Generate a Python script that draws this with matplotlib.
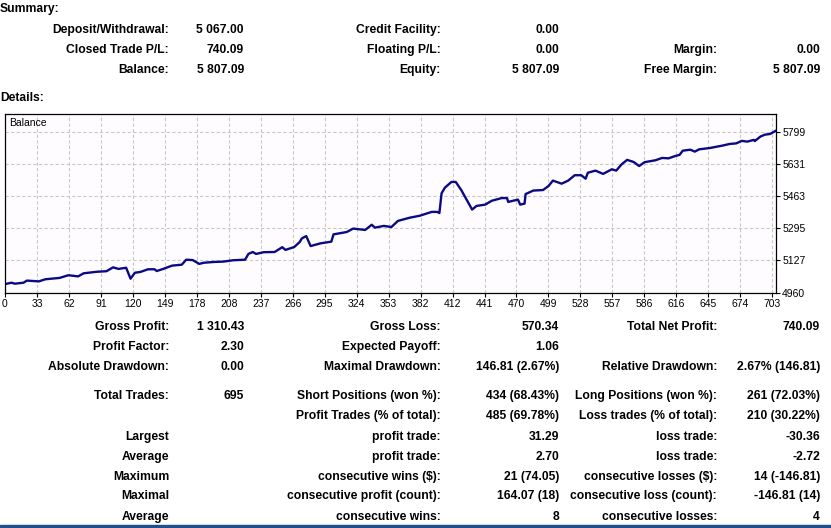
import numpy as np
import matplotlib.pyplot as plt

plt.rcParams['font.family'] = ['Liberation Sans', 'DejaVu Sans']

# balance curve (trade number, balance)
trade_no = [0, 6, 9, 17, 20, 31, 37, 50, 58, 67, 72, 84, 93, 99, 104, 111, 115, 119, 124,
            131, 137, 139, 145, 153, 162, 166, 172, 178, 182, 191, 200, 209, 220, 223, 227,
            230, 237, 247, 254, 257, 265, 270, 272, 276, 280, 289, 299, 301, 313, 319, 330,
            336, 339, 347, 354, 360, 371, 380, 391, 396, 398, 400, 403, 409, 413, 418, 428,
            432, 440, 446, 455, 460, 461, 470, 472, 476, 477, 484, 493, 498, 502, 510, 516,
            522, 528, 532, 534, 541, 548, 556, 560, 565, 570, 576, 581, 586, 596, 602, 608,
            614, 618, 621, 628, 632, 636, 646, 657, 664, 670, 675, 680, 686, 687, 692, 696,
            701, 706]
balance = [5005, 5012, 5007, 5012, 5023, 5019, 5030, 5037, 5051, 5045, 5061, 5069, 5072,
           5092, 5084, 5090, 5033, 5064, 5068, 5082, 5082, 5073, 5084, 5101, 5106, 5132,
           5130, 5110, 5116, 5120, 5122, 5129, 5132, 5162, 5172, 5162, 5171, 5172, 5197,
           5183, 5198, 5224, 5243, 5255, 5203, 5217, 5226, 5264, 5276, 5294, 5287, 5314,
           5299, 5308, 5302, 5334, 5351, 5361, 5381, 5381, 5375, 5478, 5507, 5537, 5537,
           5495, 5393, 5412, 5419, 5439, 5453, 5453, 5433, 5445, 5419, 5424, 5474, 5492,
           5495, 5516, 5544, 5528, 5544, 5572, 5572, 5554, 5585, 5596, 5579, 5603, 5596,
           5629, 5652, 5641, 5620, 5640, 5650, 5662, 5660, 5672, 5678, 5700, 5705, 5695,
           5707, 5714, 5726, 5735, 5738, 5751, 5747, 5756, 5750, 5773, 5783, 5787, 5803]

x_labels = ['0', '33', '62', '91', '120', '149', '178', '208', '237', '266', '295', '324',
            '353', '382', '412', '441', '470', '499', '528', '557', '586', '616', '645',
            '674', '703']
y_labels = ['4960', '5127', '5295', '5463', '5631', '5799']

summary_rows = [
    ['Deposit/Withdrawal:', '5 067.00', 'Credit Facility:', '0.00', '', ''],
    ['Closed Trade P/L:', '740.09', 'Floating P/L:', '0.00', 'Margin:', '0.00'],
    ['Balance:', '5 807.09', 'Equity:', '5 807.09', 'Free Margin:', '5 807.09'],
]
detail_rows = [
    ['Gross Profit:', '1 310.43', 'Gross Loss:', '570.34', 'Total Net Profit:', '740.09'],
    ['Profit Factor:', '2.30', 'Expected Payoff:', '1.06', '', ''],
    ['Absolute Drawdown:', '0.00', 'Maximal Drawdown:', '146.81 (2.67%)', 'Relative Drawdown:', '2.67% (146.81)'],
    ['Total Trades:', '695', 'Short Positions (won %):', '434 (68.43%)', 'Long Positions (won %):', '261 (72.03%)'],
    ['', '', 'Profit Trades (% of total):', '485 (69.78%)', 'Loss trades (% of total):', '210 (30.22%)'],
    ['Largest', '', 'profit trade:', '31.29', 'loss trade:', '-30.36'],
    ['Average', '', 'profit trade:', '2.70', 'loss trade:', '-2.72'],
    ['Maximum', '', 'consecutive wins ($):', '21 (74.05)', 'consecutive losses ($):', '14 (-146.81)'],
    ['Maximal', '', 'consecutive profit (count):', '164.07 (18)', 'consecutive loss (count):', '-146.81 (14)'],
    ['Average', '', 'consecutive wins:', '8', 'consecutive losses:', '4'],
]

W, H = 831, 528
fig = plt.figure(figsize=(W / 100, H / 100), dpi=100)
fig.patch.set_facecolor('white')


def put(x, y, s, ha='right', bold=True, size=8.7):
    # y is the visual middle of the capitals; place the baseline under it
    fig.text(x / W, 1 - (y + 4.2) / H, s, ha=ha, va='baseline', fontsize=size,
             fontweight='bold' if bold else 'normal', color='black')


col_x = [169, 244, 441, 559, 717, 820]

put(0, 8, 'Summary:', ha='left')
for row, y in zip(summary_rows, [28.5, 48.5, 68.5]):
    for s, x in zip(row, col_x):
        if s:
            put(x, y, s)
put(0, 97, 'Details:', ha='left')

for row, y in zip(detail_rows, [325.5, 345.5, 365.5, 395, 415, 435.5, 455.5, 475.5, 495, 515.5]):
    for s, x in zip(row, col_x):
        if s:
            put(x, y, s)

# balance chart
ax = fig.add_axes([5 / W, 1 - 292.7 / H, 771 / W, 178.7 / H])
ax.set_facecolor('#fffcff')
ax.plot(trade_no, balance, color='#0a0a84', lw=1.7, solid_joinstyle='round')
ax.set_xlim(0, 706.4)
ax.set_ylim(4960, 5891)
ax.set_xticks(np.arange(len(x_labels)) * 29.29)
ax.set_xticklabels(x_labels)
ax.set_yticks(4960 + np.arange(len(y_labels)) * 167.8)
ax.set_yticklabels(y_labels)
ax.yaxis.tick_right()
ax.tick_params(axis='both', labelsize=7.5, length=3, width=0.8, pad=1.5, direction='out')
ax.grid(True, color='#c8c8c8', linestyle=(0, (3, 2)), linewidth=0.8)
for sp in ax.spines.values():
    sp.set_linewidth(0.9)
    sp.set_color('black')
ax.text(0.005, 0.975, 'Balance', transform=ax.transAxes, ha='left', va='top', fontsize=7.5)

# blue bar along the bottom edge
fig.patches.append(plt.Rectangle((0, 0), 1, 3 / H, transform=fig.transFigure,
                                 color='#1f4f8f', zorder=5))

fig.savefig('out.png', dpi=100)
